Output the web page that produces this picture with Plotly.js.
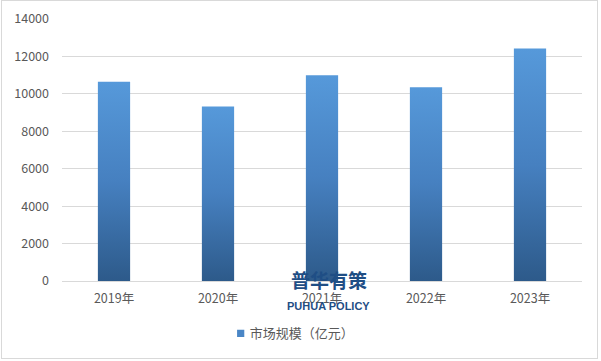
<!DOCTYPE html>
<html>
<head>
<meta charset="utf-8">
<script src="https://cdn.plot.ly/plotly-3.0.1.min.js"></script>
<style>
html,body{margin:0;padding:0;background:#fff;}
#wrap{position:relative;width:601px;height:361px;}
#chart{width:601px;height:361px;}
#frame{position:absolute;left:1px;top:0px;width:597px;height:359px;border:1px solid #d9d9d9;box-sizing:border-box;pointer-events:none;}
</style>
</head>
<body>
<div id="wrap"><div id="chart"></div><div id="frame"></div></div>
<script>
const years = ['2019年','2020年','2021年','2022年','2023年'];
const marketSize = [10650, 9330, 10990, 10350, 12430];
const seriesName = '市场规模（亿元）';
const yTicks = [0,2000,4000,6000,8000,10000,12000,14000];

const font = '"Noto Sans CJK SC", "Noto Sans", sans-serif';
const trace = {
  type: 'bar', x: years, y: marketSize, name: seriesName,
  marker: {color: '#4a86c6'}, hoverinfo: 'none', showlegend: true
};
const layout = {
  width: 601, height: 361,
  margin: {l: 62, r: 19, t: 18.5, b: 80},
  paper_bgcolor: 'rgba(0,0,0,0)', plot_bgcolor: '#fff',
  bargap: 0.69,
  font: {family: font, size: 12, color: '#595959'},
  xaxis: {showgrid: false, showline: true, linecolor: '#d9d9d9', linewidth: 1,
          ticks: '', tickfont: {size: 12.5, color: '#595959'}, ticklabelstandoff: 6},
  yaxis: {range: [0, 14000], tickvals: yTicks, tickformat: 'd', showgrid: true, gridcolor: '#d9d9d9',
          zeroline: false, showline: false, ticks: '', tickfont: {size: 12.5, color: '#595959'},
          ticklabelstandoff: 12},
  showlegend: true,
  legend: {orientation: 'h', x: 0.284, xanchor: 'left', y: -0.2, yanchor: 'middle',
           font: {size: 13, color: '#595959'}, itemwidth: 30},
  annotations: [
    {text: '<b>普华有策</b>', xref: 'paper', yref: 'paper', x: 0.513, y: -0.053,
     showarrow: false, font: {size: 19, color: '#1f4e85', family: font}},
    {text: '<b>PUHUA POLICY</b>', xref: 'paper', yref: 'paper', x: 0.513, y: -0.125,
     showarrow: false, font: {size: 11, color: '#1f4e85', family: '"Liberation Sans", Arial, sans-serif'}}
  ]
};
Plotly.newPlot('chart', [trace], layout, {staticPlot: true, displayModeBar: false}).then(function(gd){
  const svg = gd.querySelector('svg.main-svg');
  const ns = 'http://www.w3.org/2000/svg';
  let defs = svg.querySelector('defs');
  if (!defs) { defs = document.createElementNS(ns, 'defs'); svg.insertBefore(defs, svg.firstChild); }
  const lg = document.createElementNS(ns, 'linearGradient');
  lg.setAttribute('id', 'barGrad');
  lg.setAttribute('x1', '0'); lg.setAttribute('y1', '0'); lg.setAttribute('x2', '0'); lg.setAttribute('y2', '1');
  [['0', '#5699da'], ['0.5', '#4680c0'], ['1', '#2d5a8a']].forEach(function(s){
    const st = document.createElementNS(ns, 'stop');
    st.setAttribute('offset', s[0]); st.setAttribute('stop-color', s[1]);
    lg.appendChild(st);
  });
  defs.appendChild(lg);
  gd.querySelectorAll('.barlayer .point path').forEach(function(p){ p.style.fill = 'url(#barGrad)'; });
  gd.querySelectorAll('.legend .legendpoints path').forEach(function(p){
    p.style.fill = '#4a86c6';
    p.setAttribute('transform', 'translate(31,0) scale(0.6)');
  });
});
</script>
</body>
</html>
